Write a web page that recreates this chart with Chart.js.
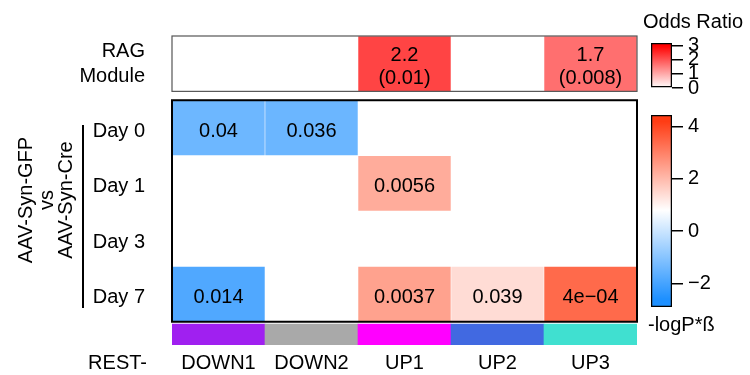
<!DOCTYPE html>
<html><head><meta charset="utf-8">
<script src="https://cdn.jsdelivr.net/npm/chart.js@4.4.1/dist/chart.umd.min.js"></script>
<style>
  html, body { margin: 0; padding: 0; background: #fff; }
  #wrap { position: relative; width: 750px; height: 375px; overflow: hidden;
          font-family: 'Liberation Sans', Arial, Helvetica, sans-serif; }
  #wrap canvas { position: absolute; }
  .lbl { position: absolute; font-size: 20px; line-height: 1; color: #000; white-space: nowrap; }
</style>
</head><body>
<div id="wrap">
  <canvas id="heat" width="750" height="375" style="left:0;top:0"></canvas>
  <canvas id="legOdds" width="99" height="75" style="left:651px;top:28px"></canvas>
  <canvas id="legScore" width="99" height="222" style="left:651px;top:100px"></canvas>
  <div class="lbl" style="left:643px;top:11px">Odds Ratio</div>
  <div class="lbl" style="left:648px;top:314px">-logP*ß</div>
</div>
<script>
/* Heatmap REST- modules x jours (AAV-Syn-GFP vs AAV-Syn-Cre) + ligne RAG Module */
const FONT = "'Liberation Sans', Arial, Helvetica, sans-serif";

const modules = ['DOWN1', 'DOWN2', 'UP1', 'UP2', 'UP3'];
const moduleColors = ['#a020f0', '#a9a9a9', '#ff00ff', '#4169e1', '#40e0d0'];
const days = ['Day 0', 'Day 1', 'Day 3', 'Day 7'];

// RAG module : odds ratio (p-value)
const ragOdds = [null, null, 2.2, null, 1.7];
const ragP = [null, null, '(0.01)', null, '(0.008)'];

// -logP*β par cellule (null = non significatif, case blanche)
const scoreDay0 = [-1.40, -1.44, null, null, null];
const scoreDay1 = [null, null, 2.25, null, null];
const scoreDay3 = [null, null, null, null, null];
const scoreDay7 = [-1.85, null, 2.43, 1.41, 3.40];
const pDay0 = ['0.04', '0.036', null, null, null];
const pDay1 = [null, null, '0.0056', null, null];
const pDay3 = [null, null, null, null, null];
const pDay7 = ['0.014', null, '0.0037', '0.039', '4e\u221204'];

const oddsTicks = [0, 1, 2, 3];
const scoreTicks = [-2, 0, 2, 4];

const scores = [scoreDay0, scoreDay1, scoreDay3, scoreDay7];
const pvals = [pDay0, pDay1, pDay3, pDay7];

/* ── Palettes ─────────────────────────────────────────────── */
const BLUE = [30, 144, 255], WHITE = [255, 255, 255], RED = [255, 60, 20], PURE_RED = [255, 0, 0];
const SCORE_RAMP = [[-2.6, BLUE], [0.8, WHITE], [4.2, RED]];
const ODDS_RAMP = [[0, WHITE], [3, PURE_RED]];
function ramp(stops, v) {
  if (v <= stops[0][0]) return stops[0][1];
  for (let i = 1; i < stops.length; i++) {
    if (v <= stops[i][0]) {
      const [a, ca] = stops[i - 1], [b, cb] = stops[i];
      const t = (v - a) / (b - a);
      return ca.map((c, k) => Math.round(c + (cb[k] - c) * t));
    }
  }
  return stops[stops.length - 1][1];
}
const rgb = c => `rgb(${c[0]},${c[1]},${c[2]})`;
const scoreColor = v => v == null ? 'rgba(0,0,0,0)' : rgb(ramp(SCORE_RAMP, v));
const oddsColor = v => v == null ? 'rgba(0,0,0,0)' : rgb(ramp(ODDS_RAMP, v));
const minus = v => v < 0 ? '\u2212' + Math.abs(v) : String(v);

/* ── Bandes verticales (unités de ligne) ───────────────────── */
const BAND_RAG = [-1.16, -0.16];
const BAND_STRIP = [4.04, 4.42];

function bandSet(vals, y0, y1, colors, cell) {
  return {
    data: vals.map(v => v == null ? null : [y0, y1]),
    backgroundColor: colors,
    borderColor: cell ? 'rgba(255,255,255,0.35)' : 'rgba(0,0,0,0)',
    borderWidth: cell ? 0.6 : 0, borderSkipped: false,
    grouped: false, barPercentage: 1, categoryPercentage: 1,
  };
}
const heatSets = [bandSet(ragOdds, BAND_RAG[0], BAND_RAG[1], ragOdds.map(oddsColor), true)];
scores.forEach((row, r) => heatSets.push(bandSet(row, r, r + 1, row.map(scoreColor), true)));
heatSets.push(bandSet(moduleColors, BAND_STRIP[0], BAND_STRIP[1], moduleColors, false));

const decor = {
  id: 'heatDecor',
  afterDraw(chart) {
    const { ctx, scales: { x, y } } = chart;
    const L = chart.chartArea.left, R = chart.chartArea.right;
    const px = i => x.getPixelForValue(i);
    ctx.save();
    ctx.fillStyle = '#000';
    ctx.font = '20px ' + FONT;
    ctx.textBaseline = 'alphabetic';

    // cadres
    ctx.strokeStyle = '#555'; ctx.lineWidth = 1.2;
    ctx.strokeRect(L, y.getPixelForValue(BAND_RAG[0]), R - L, y.getPixelForValue(BAND_RAG[1]) - y.getPixelForValue(BAND_RAG[0]));
    ctx.strokeStyle = '#000'; ctx.lineWidth = 2;
    ctx.strokeRect(L, y.getPixelForValue(0), R - L, y.getPixelForValue(4) - y.getPixelForValue(0));

    // ligne RAG
    const ragMid = y.getPixelForValue((BAND_RAG[0] + BAND_RAG[1]) / 2);
    ctx.textAlign = 'right';
    ctx.fillText('RAG', 145, ragMid - 6.5);
    ctx.fillText('Module', 145, ragMid + 18.5);
    ctx.textAlign = 'center';
    ragOdds.forEach((v, i) => {
      if (v == null) return;
      ctx.fillText(v.toFixed(1), px(i), ragMid - 2.5);
      ctx.fillText(ragP[i], px(i), ragMid + 20.5);
    });

    // cellules + jours
    days.forEach((d, r) => {
      const cy = y.getPixelForValue(r + 0.5) + 9;
      ctx.textAlign = 'right';
      ctx.fillText(d, 145, cy);
      ctx.textAlign = 'center';
      pvals[r].forEach((p, i) => { if (p) ctx.fillText(p, px(i), cy); });
    });

    // modules
    ctx.textAlign = 'center';
    modules.forEach((m, i) => ctx.fillText(m, px(i), 369));
    ctx.textAlign = 'right';
    ctx.fillText('REST-', 147, 369);

    // bracket + libellé tourné
    ctx.lineWidth = 2;
    ctx.beginPath(); ctx.moveTo(83, 125); ctx.lineTo(83, 308); ctx.stroke();
    [['AAV-Syn-GFP', 32], ['vs', 53], ['AAV-Syn-Cre', 72]].forEach(([s, bx]) => {
      ctx.save();
      ctx.translate(bx, 200); ctx.rotate(-Math.PI / 2);
      ctx.textAlign = 'center'; ctx.fillText(s, 0, 0);
      ctx.restore();
    });
    ctx.restore();
  },
};

new Chart(document.getElementById('heat'), {
  type: 'bar',
  data: { labels: modules, datasets: heatSets },
  options: {
    responsive: false, animation: false, events: [],
    layout: { padding: { left: 172, right: 113, top: 36, bottom: 30 } },
    plugins: { legend: { display: false }, tooltip: { enabled: false } },
    scales: {
      x: { display: false, offset: true },
      y: { display: false, reverse: true, min: BAND_RAG[0], max: BAND_STRIP[1] },
    },
  },
  plugins: [decor],
});

/* ── Légendes couleur ─────────────────────────────────────── */
function colorBar(id, lo, hi, ticks, stops, pad) {
  return new Chart(document.getElementById(id), {
    type: 'bar',
    data: { labels: [''], datasets: [{
      data: [[lo, hi]],
      backgroundColor: (c) => {
        const ch = c.chart;
        if (!ch.chartArea) return '#fff';
        const sy = ch.scales.y;
        const top = sy.getPixelForValue(hi), bot = sy.getPixelForValue(lo);
        const g = ch.ctx.createLinearGradient(0, top, 0, bot);
        g.addColorStop(0, rgb(ramp(stops, hi)));
        stops.forEach(([v, col]) => {
          if (v > lo && v < hi) g.addColorStop((hi - v) / (hi - lo), rgb(col));
        });
        g.addColorStop(1, rgb(ramp(stops, lo)));
        return g;
      },
      borderColor: '#000', borderWidth: 1.6, borderSkipped: false,
      barPercentage: 1, categoryPercentage: 1,
    }] },
    options: {
      responsive: false, animation: false, events: [],
      layout: { padding: { left: 0, right: 0, top: pad[0], bottom: pad[1] } },
      plugins: { legend: { display: false }, tooltip: { enabled: false } },
      scales: {
        x: { display: false },
        y: {
          position: 'right', min: lo, max: hi,
          afterFit: s => { s.width = 78; },
          afterBuildTicks: s => { s.ticks = ticks.map(v => ({ value: v })); },
          border: { display: false },
          grid: { drawOnChartArea: false, drawTicks: true, tickLength: 11, color: '#000', lineWidth: 1.5 },
          ticks: { autoSkip: false, padding: 5, color: '#000', font: { size: 20, family: FONT, lineHeight: 1 }, callback: minus },
        },
      },
    },
  });
}
colorBar('legOdds', 0, 3.2, oddsTicks, ODDS_RAMP, [11, 14]);
colorBar('legScore', -2.91, 4.45, scoreTicks, SCORE_RAMP, [13, 14]);
</script>
</body></html>
